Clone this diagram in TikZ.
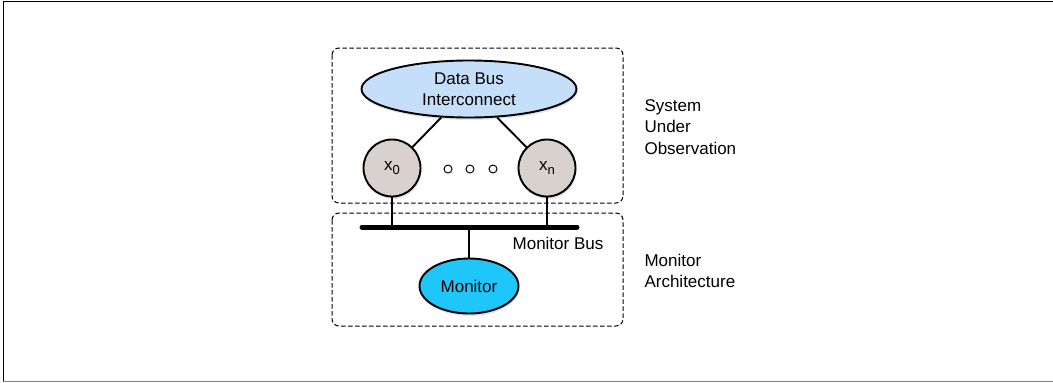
\documentclass[tikz,border=0pt]{standalone}
\usepackage{fontspec}
\setmainfont{Liberation Sans}
\usepackage{xcolor}
\usetikzlibrary{shapes.geometric}
\usetikzlibrary{shadows}
\definecolor{busblue}{HTML}{C5DFFA}
\definecolor{procgrey}{HTML}{D8D1CD}
\definecolor{moncyan}{HTML}{1EC6F9}
\tikzset{region/.style={draw, dash pattern=on 4.5pt off 2.5pt, rounded corners=7pt, line width=1pt}}
\tikzset{blob/.style={draw, ellipse, line width=1.9pt, inner sep=0pt, align=center,
    drop shadow={opacity=0.22, shadow xshift=1pt, shadow yshift=-2.5pt}}}
\tikzset{proc/.style={draw, circle, line width=1.9pt, minimum size=57pt, inner sep=0pt, fill=procgrey,
    drop shadow={opacity=0.22, shadow xshift=1pt, shadow yshift=-2.5pt}}}
\tikzset{dotnode/.style={draw, circle, line width=1pt, minimum size=8pt, inner sep=0pt}}
\newcommand{\idx}[1]{\raisebox{-4pt}{\fontsize{13}{13}\selectfont #1}}

\begin{document}
\begin{tikzpicture}[x=1pt,y=-1pt,font=\fontsize{17}{21.5}\selectfont]
    \useasboundingbox (0,0) rectangle (1053,383);

    \coordinate (F0) at (1053, 1);
    \coordinate (F1) at (3, 1);
    \coordinate (F2) at (3, 381);
    \coordinate (F3) at (1053, 381);

    \coordinate (S0) at (332, 48);
    \coordinate (S1) at (623, 203);
    \coordinate (M0) at (332, 213);
    \coordinate (M1) at (623, 326);

    \coordinate (B0) at (362, 227);
    \coordinate (B1) at (577, 227);

    \coordinate (L0) at (641, 127);
    \coordinate (L1) at (641, 271);
    \coordinate (L2) at (558, 243);

    %frame
    \draw[line width=1pt] (F0) -- (F1) -- (F2);
    \draw[line width=1pt, gray] (F2) -- (F3);

    \draw[region] (S0) rectangle (S1);
    \draw[region] (M0) rectangle (M1);

    \node[blob, fill=busblue, minimum width=215pt, minimum height=57pt] (dbus) at (469, 89) {Data Bus\\Interconnect};
    \node[proc] (x0) at (392, 168) {x\idx{0}};
    \node[proc] (xn) at (547, 168) {x\idx{n}};
    \node[dotnode] (d0) at (448, 169) {};
    \node[dotnode] (d1) at (470, 169) {};
    \node[dotnode] (d2) at (493, 169) {};
    \node[blob, fill=moncyan, minimum width=99pt, minimum height=55pt] (mon) at (469, 286) {Monitor};

    \draw[line width=1.9pt] (dbus) -- (x0);
    \draw[line width=1.9pt] (dbus) -- (xn);

    \draw[line width=5pt, line cap=round] (B0) -- (B1);
    \draw[line width=1.9pt] (x0.south) -- (x0.south |- B0);
    \draw[line width=1.9pt] (xn.south) -- (xn.south |- B0);
    \draw[line width=1.9pt] (mon.north) -- (mon.north |- B0);

%labels
    \node at (L2) {Monitor Bus};
    \node[anchor=west, align=left] at (L0) {System\\Under\\Observation};
    \node[anchor=west, align=left] at (L1) {Monitor\\Architecture};
\end{tikzpicture}
\end{document}
